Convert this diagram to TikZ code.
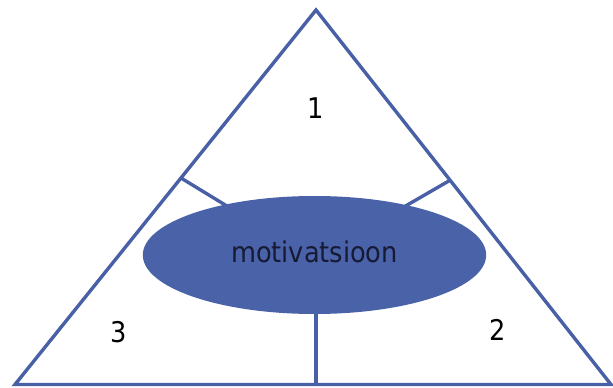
\documentclass[tikz,border=0pt]{standalone}
\usepackage{fontspec}
\setmainfont{DejaVu Sans Condensed}
\usetikzlibrary{shapes.geometric}
\definecolor{tri}{RGB}{74,96,166}
\definecolor{ell}{RGB}{74,98,168}
\definecolor{txt}{RGB}{22,26,52}
\tikzset{
  edge/.style={draw=tri, line width=3.4pt, line join=miter},
  lbl/.style={font=\fontsize{28.5}{32}\selectfont, inner sep=0pt, anchor=base},
}
\begin{document}
\begin{tikzpicture}[x=1pt,y=-1pt]
\useasboundingbox (0,0) rectangle (613,388);
\coordinate (A) at (316,10);
\coordinate (B) at (15,384.5);
\coordinate (C) at (611,384.5);
\coordinate (L) at (181,178);
\coordinate (R) at (450.5,180);
\coordinate (Li) at (240,214);
\coordinate (Ri) at (390,215);
\coordinate (D) at (316,384.5);
\coordinate (Di) at (316,280);
\draw[edge] (A) -- (B) -- (C) -- cycle;
\draw[edge] (L) -- (Li);
\draw[edge] (R) -- (Ri);
\draw[edge] (D) -- (Di);
\node[ellipse, fill=ell, minimum width=343.4pt, minimum height=118pt, inner sep=0pt] (m) at (314.5,255) {};
\node[lbl, text=txt] (mt) at (314.5,262) {motivatsioon};
\node[lbl] (n1) at (316,118.3) {1};
\node[lbl] (n3) at (119,342.5) {3};
\node[lbl] (n2) at (498,340.7) {2};
\end{tikzpicture}
\end{document}
